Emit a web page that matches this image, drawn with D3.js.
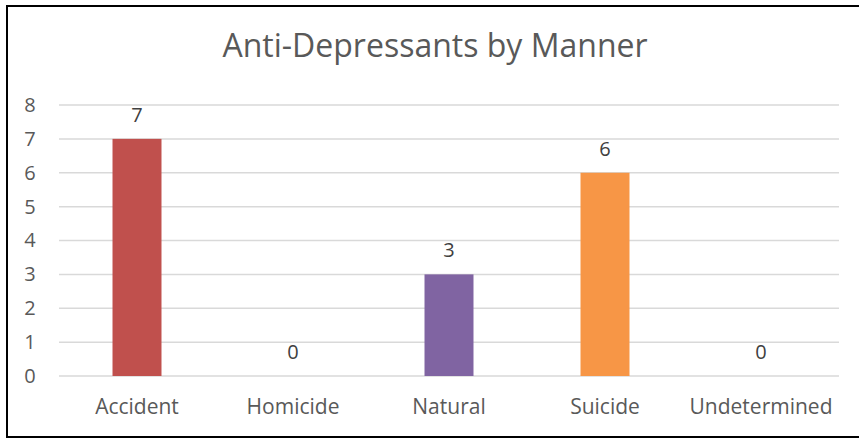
<!DOCTYPE html>
<html>
<head>
<meta charset="utf-8">
<script src="https://cdn.jsdelivr.net/npm/d3@7/dist/d3.min.js"></script>
<style>
html,body{margin:0;padding:0;background:#fff;}
svg{display:block;}
text{font-family:"Open Sans",sans-serif;}
</style>
</head>
<body>
<svg id="chart" width="859" height="441"></svg>
<script>
const categories = ["Accident","Homicide","Natural","Suicide","Undetermined"];
const values = [7,0,3,6,0];
const colors = ["#C0504D","#4F81BD","#8064A2","#F79646","#4BACC6"];
const yTicks = [0,1,2,3,4,5,6,7,8];
const title = "Anti-Depressants by Manner";

(function(){
const svg = d3.select("#chart");
const W = 859, H = 441;

// outer border
svg.append("rect").attr("x",7).attr("y",6).attr("width",W+10).attr("height",431)
  .attr("fill","#fff").attr("stroke","#000").attr("stroke-width",2);

const pLeft = 59, pRight = 839, pTop = 105, pBottom = 376;

const x = d3.scaleBand().domain(categories).range([pLeft,pRight]).paddingInner(0.686).paddingOuter(0.343);
const y = d3.scaleLinear().domain([0,8]).range([pBottom,pTop]);

// gridlines
svg.append("g").selectAll("line").data(yTicks).join("line")
  .attr("x1",pLeft).attr("x2",pRight)
  .attr("y1",d=>y(d)).attr("y2",d=>y(d))
  .attr("stroke","#d9d9d9").attr("stroke-width",1.5);

// y axis labels
const yAxis = d3.axisLeft(y).tickValues(yTicks).tickSize(0).tickPadding(0);
const ya = svg.append("g").attr("transform","translate(30,0)").call(yAxis);
ya.select(".domain").remove();
ya.selectAll("text").attr("font-family","'Open Sans',sans-serif").attr("font-size",20).attr("fill","#595959").attr("text-anchor","middle");

// x axis labels
const xAxis = d3.axisBottom(x).tickSize(0).tickPadding(0);
const xa = svg.append("g").attr("transform","translate(0,399)").call(xAxis);
xa.select(".domain").remove();
xa.selectAll("text").attr("font-family","'Open Sans',sans-serif").attr("font-size",21).attr("fill","#595959");

// bars
svg.append("g").selectAll("rect").data(categories).join("rect")
  .attr("x",d=>x(d)).attr("width",x.bandwidth())
  .attr("y",(d,i)=>y(values[i])).attr("height",(d,i)=>y(0)-y(values[i]))
  .attr("fill",(d,i)=>colors[i]);

// data labels
svg.append("g").selectAll("text").data(categories).join("text")
  .attr("x",d=>x(d)+x.bandwidth()/2)
  .attr("y",(d,i)=>y(values[i])-17)
  .attr("text-anchor","middle")
  .attr("font-size",20).attr("fill","#404040")
  .text((d,i)=>values[i]);

// title
svg.append("text").attr("x",435).attr("y",57).attr("text-anchor","middle")
  .attr("font-size",32).attr("fill","#595959").text(title);
})();
</script>
</body>
</html>
